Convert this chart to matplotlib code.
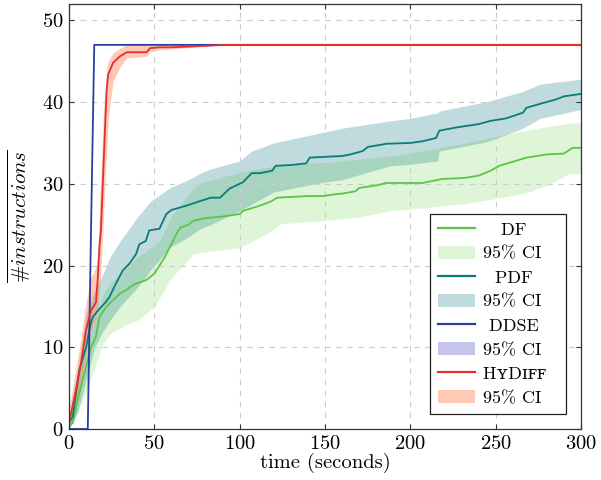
import matplotlib
matplotlib.use("Agg")
import matplotlib.pyplot as plt
from matplotlib.patches import Patch
from matplotlib.lines import Line2D
from matplotlib.mathtext import MathTextParser

plt.rcParams['font.family'] = ['cmr10', 'DejaVu Serif']
plt.rcParams['mathtext.fontset'] = 'cm'
plt.rcParams['axes.formatter.use_mathtext'] = True
plt.rcParams['font.size'] = 13

# ---------------- data ----------------
df_t = [0, 2.2, 5, 8, 11, 12.9, 15.8, 17.8, 21.7, 24, 27.5, 30, 33.4, 36, 39.3, 45, 50, 53, 56, 59, 62, 65, 70,
        73, 80, 90, 100, 102, 110, 118, 122, 130, 140, 149, 155, 160, 168, 170, 180, 186, 200, 207, 219, 231, 240,
        247, 252, 260, 268, 280, 290, 295, 300]
df_y = [0.5, 0.7, 3.5, 6, 8.5, 10, 11.3, 13.7, 14.9, 15.4, 16.1, 16.6, 17, 17.4, 17.8, 18.2, 19, 20, 21, 22.2,
        23.5, 24.6, 25, 25.5, 25.8, 26, 26.3, 26.7, 27.2, 27.8, 28.3, 28.4, 28.5, 28.5, 28.7, 28.8, 29.1, 29.5,
        29.8, 30.1, 30.1, 30.1, 30.6, 30.7, 31, 31.6, 32.2, 32.7, 33.2, 33.6, 33.7, 34.4, 34.4]
df_ci_t = [0, 5, 10, 15, 20, 25, 33, 40, 50, 53, 60, 73, 77, 100, 116, 124, 150, 169, 188, 200, 233, 250, 266,
           280, 293, 300]
df_ci_lo = [0, 2, 4.5, 7.5, 10.5, 11.8, 12.7, 13.3, 14.9, 16, 18.5, 21.4, 21.6, 22.2, 23.9, 25.1, 25.5, 25.9,
            26.7, 26.9, 27.6, 28.2, 28.8, 29.8, 31.2, 31.3]
df_ci_hi = [1.5, 6, 10, 13, 16.5, 18, 19.5, 21, 22.5, 23, 26, 29.5, 30.1, 31.4, 32, 32.4, 32.6, 33, 33.4, 33.8,
            35, 35.8, 36.5, 37, 37.4, 37.5]

pdf_t = [0, 2.2, 6, 10, 12.3, 13.9, 17.8, 21, 23.6, 27.5, 31.5, 35.3, 39.3, 41.2, 45, 47, 53, 57, 60, 65, 70, 77,
         83, 88.5, 94, 100, 102, 107, 112, 119, 121, 130, 139, 141, 150, 160, 165, 172, 175, 186, 200, 207, 215,
         217, 227, 240, 247, 256, 266, 268, 278, 285, 290, 300]
pdf_y = [0.8, 1.5, 7.2, 10, 12.5, 13.7, 14.7, 15.4, 16.1, 17.8, 19.4, 20.2, 21.4, 22.6, 23, 24.3, 24.5, 26.3,
         26.8, 27.1, 27.4, 27.9, 28.3, 28.3, 29.4, 30, 30.2, 31.3, 31.3, 31.6, 32.2, 32.3, 32.5, 33.2, 33.3, 33.4,
         33.6, 34, 34.5, 34.9, 35, 35.2, 35.6, 36.5, 36.9, 37.3, 37.7, 38, 38.7, 39.3, 39.9, 40.3, 40.7, 41]
pdf_ci_t = [0, 5, 10, 15, 20, 24, 30, 40, 48, 59, 70, 77, 83, 100, 107, 120, 149, 160, 188, 200, 216, 217, 246,
            266, 276, 300]
pdf_ci_lo = [0, 2, 6, 10, 12, 13.3, 15, 17.3, 19.5, 22.2, 23.5, 24.5, 25, 26.7, 27.5, 29, 30.2, 30.5, 32.2, 32.4,
             32.8, 34, 35.2, 36.8, 38, 39.1]
pdf_ci_hi = [1.5, 7, 14, 17, 19, 21, 23, 25.9, 27.9, 29.5, 30.5, 31.3, 31.8, 32.8, 34, 35, 36.3, 36.8, 37.7, 38,
             38.7, 38.9, 40.1, 41.3, 42.2, 42.8]

ddse_t = [0, 11, 12.9, 14.8, 300]
ddse_y = [0, 0, 24.3, 47, 47]
ddse_ci_lo = [0, 0, 24.3, 47, 47]
ddse_ci_hi = [0, 0, 24.3, 47, 47]

hy_t = [0, 1.2, 4.1, 7, 10, 12.9, 15.8, 16.8, 17.8, 18.7, 20, 22, 23, 25.8, 29.9, 33.8, 45.5, 47.5, 53, 60, 82.6,
        90, 300]
hy_y = [1, 1.9, 4.8, 8, 12.1, 14.5, 15.5, 18.2, 22.2, 24.3, 31, 41.3, 43.4, 44.8, 45.6, 46.1, 46.1, 46.6, 46.7,
        46.7, 46.9, 47, 47]
hy_ci_lo = [0, 0.5, 3, 6, 9.5, 12, 13.5, 14.5, 17, 19.5, 25, 34, 38, 42.5, 44.3, 45.4, 45.6, 46.2, 46.4, 46.5,
            46.9, 47, 47]
hy_ci_hi = [2.5, 3.8, 7.5, 11, 15.5, 18.5, 19.8, 21, 27, 31, 38, 44, 45, 46, 46.6, 47, 47, 47, 47, 47, 47, 47, 47]

# labels padded with spaces so they sit centred in the legend column
labels = ['   DF', '95% CI', '  PDF', '95% CI', ' DDSE', '95% CI', 'HʏDɪꜰꜰ  ', '95% CI']

# ---------------- style ----------------
c_df, c_df_ci = '#5cc545', (0.39, 0.82, 0.24, 0.2)
c_pdf, c_pdf_ci = '#0a7d78', (0.0, 0.45, 0.47, 0.25)
c_dd, c_dd_ci = '#2b3d9e', (0.55, 0.55, 0.85, 0.5)
c_hy, c_hy_ci = '#e2302a', (1.0, 0.45, 0.25, 0.38)

fig = plt.figure(figsize=(6.01, 4.8), dpi=100)
ax = fig.add_axes([69 / 601, 51 / 480, 512 / 601, 425 / 480])

ax.fill_between(df_ci_t, df_ci_lo, df_ci_hi, color=c_df_ci, lw=0)
ax.plot(df_t, df_y, color=c_df, lw=1.3)
ax.fill_between(pdf_ci_t, pdf_ci_lo, pdf_ci_hi, color=c_pdf_ci, lw=0)
ax.plot(pdf_t, pdf_y, color=c_pdf, lw=1.3)
ax.fill_between(hy_t, hy_ci_lo, hy_ci_hi, color=c_hy_ci, lw=0)
ax.fill_between(ddse_t, ddse_ci_lo, ddse_ci_hi, color=c_dd_ci, lw=0)
ax.plot(ddse_t, ddse_y, color=c_dd, lw=1.3)
ax.plot(hy_t, hy_y, color=c_hy, lw=1.3)

ax.set_xlim(0, 300)
ax.set_ylim(0, 52)
ax.set_xticks([0, 50, 100, 150, 200, 250, 300])
ax.set_yticks([0, 10, 20, 30, 40, 50])
ax.tick_params(direction='in', length=3.5, width=0.8, color='#333333', top=True, right=True,
               labelsize=14.8, pad=4)
ax.grid(True, color='#cccccc', linestyle=(0, (5, 5)), lw=0.8)
for s in ax.spines.values():
    s.set_color('#333333')
    s.set_linewidth(0.9)

ax.set_xlabel('time (seconds)', fontsize=14.8, labelpad=0)

ylab = r'$\overline{\#instructions}$'
for cand in [r'$\overline{\#instructions}$', r'$\overline{\mathit{\#instructions}}$',
             r'$\overline{\# instructions}$', r'$\overline{{\#}instructions}$', r'$\overline{instructions}$']:
    try:
        MathTextParser('agg').parse(cand, dpi=100)
        ylab = cand
        break
    except Exception:
        continue
ax.set_ylabel(ylab, fontsize=15, labelpad=6)

handles = [Line2D([], [], color=c_df, lw=1.6), Patch(color=c_df_ci, lw=0),
           Line2D([], [], color=c_pdf, lw=1.6), Patch(color=c_pdf_ci, lw=0),
           Line2D([], [], color=c_dd, lw=1.6), Patch(color=c_dd_ci, lw=0),
           Line2D([], [], color=c_hy, lw=1.6), Patch(color=c_hy_ci, lw=0)]
leg = ax.legend(handles, labels, loc='lower right', bbox_to_anchor=(0.9707, 0.0353),
                fancybox=False, edgecolor='#222222', framealpha=1, fontsize=13,
                handlelength=2.05, handleheight=0.75, handletextpad=0.45, labelspacing=0.45,
                borderpad=0.45, borderaxespad=0)
leg.get_frame().set_linewidth(0.9)

fig.savefig('out.png', dpi=100)
